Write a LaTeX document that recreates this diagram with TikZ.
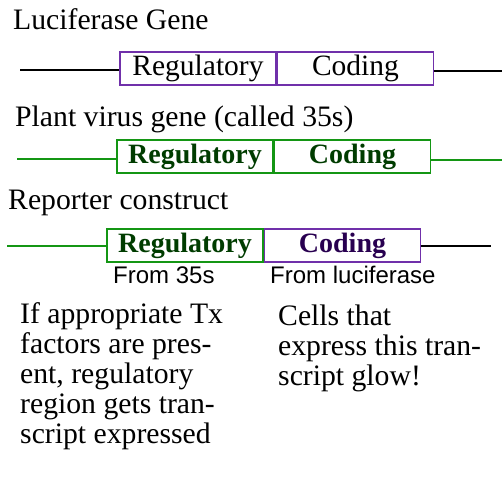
\documentclass[tikz,border=0pt]{standalone}
\usepackage{fontspec}
\setmainfont{Liberation Serif}
\setsansfont{Liberation Sans}
\usepackage{tikz}
\usetikzlibrary{positioning}
\definecolor{viola}{RGB}{112,48,170}
\definecolor{verde}{RGB}{20,150,20}
\definecolor{verdescuro}{RGB}{0,60,0}
\definecolor{violascuro}{RGB}{40,0,80}
\tikzstyle{genebox} = [draw, line width=1.5pt, rectangle, minimum width=156pt, minimum height=33pt, inner sep=0pt, font=\fontsize{29.5}{30}\selectfont]
\tikzstyle{boldbox} = [genebox, font=\fontsize{28}{30}\selectfont\bfseries]
\tikzstyle{titolo} = [anchor=base west, inner sep=0pt, font=\fontsize{29.7}{30}\selectfont]
\tikzstyle{sotto} = [anchor=base west, inner sep=0pt, font=\sffamily\fontsize{24}{28}\selectfont]
\tikzstyle{filo} = [line width=1.5pt]

\begin{document}
\begin{tikzpicture}[x=1pt,y=-1pt]
\useasboundingbox (0,0) rectangle (502,476);
% Luciferase
\node [titolo] (tluc) at (13,30) {Luciferase Gene};
\node [genebox, draw=viola] (reg1) at (198,68.5) {Regulatory};
\node [genebox, draw=viola, right=0pt of reg1] (cod1) {Coding};
\coordinate (a1) at (20,70);
\coordinate (b1) at (502,71);
\draw [filo] (a1) -- (a1 -| reg1.west);
\draw [filo] (cod1.east |- b1) -- (b1);
% 35s
\node [titolo] (tvir) at (15,126) {Plant virus gene (called 35s)};
\node [boldbox, draw=verde, text=verdescuro] (reg2) at (195,156.5) {Regulatory};
\node [boldbox, draw=verde, text=verdescuro, right=0pt of reg2] (cod2) {Coding};
\coordinate (a2) at (17,159);
\coordinate (b2) at (502,160);
\draw [filo, verde] (a2) -- (a2 -| reg2.west);
\draw [filo, verde] (cod2.east |- b2) -- (b2);
% costrutto
\node [titolo] (trep) at (8,209) {Reporter construct};
\node [boldbox, draw=verde, text=verdescuro] (reg3) at (185,245.5) {Regulatory};
\node [boldbox, draw=viola, text=violascuro, right=0pt of reg3] (cod3) {Coding};
\coordinate (a3) at (7,246);
\coordinate (b3) at (491,246);
\draw [filo, verde] (a3) -- (a3 -| reg3.west);
\draw [filo] (cod3.east |- b3) -- (b3);
\node [sotto] (f35) at (113,283) {From 35s};
\node [sotto] (fluc) at (270,283) {From luciferase};
% testo
\node [anchor=north west, inner sep=0pt, align=left, font=\fontsize{29.7}{30}\selectfont] (sx) at (20,302) {If appropriate Tx\\factors are pres-\\ent, regulatory\\region gets tran-\\script expressed};
\node [anchor=north west, inner sep=0pt, align=left, font=\fontsize{29.7}{30}\selectfont] (dx) at (278,305) {Cells that\\express this tran-\\script glow!};
\end{tikzpicture}
\end{document}
